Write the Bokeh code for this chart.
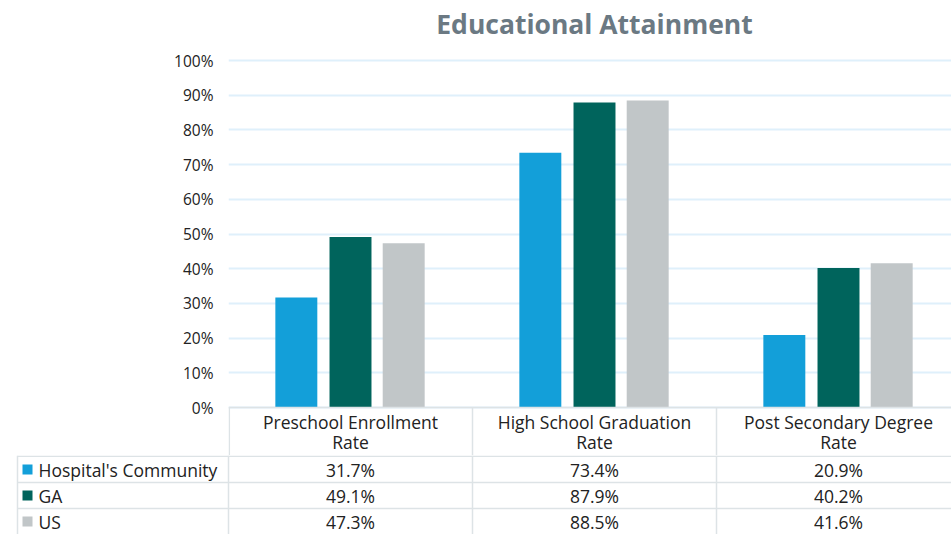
from bokeh.plotting import figure
from bokeh.models import Range1d, FixedTicker
from bokeh.layouts import column
from bokeh.embed import file_html
from bokeh.resources import INLINE
from bokeh.core.properties import value

# ---- data ----
title_text = "Educational Attainment"
cat_line1 = ["Preschool Enrollment", "High School Graduation", "Post Secondary Degree"]
cat_line2 = ["Rate", "Rate", "Rate"]
series_names = ["Hospital's Community", "GA", "US"]
hospital = [31.7, 73.4, 20.9]
ga = [49.1, 87.9, 40.2]
us = [47.3, 88.5, 41.6]
y_ticks = [0, 10, 20, 30, 40, 50, 60, 70, 80, 90, 100]
y_tick_labels = ["0%", "10%", "20%", "30%", "40%", "50%", "60%", "70%", "80%", "90%", "100%"]

series_values = [hospital, ga, us]
colors = ["#139fd9", "#00645c", "#c1c6c8"]
FONT = "Open Sans"
TEXT_COLOR = "#222222"
BORDER = "#dde3e6"

# ---- layout helpers (canvas pixel -> data units) ----
W = 951
CAT_W = 244.0
LEFT = 228.0
Y0 = 407.0          # pixel row of 0%
PPU = 3.47          # pixels per percentage point
TOP_H = 455         # top figure: canvas rows 0..455 (chart + table header)
def px(xp):
    return (xp - LEFT) / CAT_W
def py(yp):
    return (Y0 - yp) / PPU

offsets = [-0.222, 0.0, 0.218]
bar_w = 0.172

# ---- top chart (chart + table header row) ----
p = figure(width=W, height=TOP_H, output_backend="svg", toolbar_location=None,
           x_range=Range1d(0, px(W)), y_range=Range1d(py(TOP_H), py(0)),
           min_border_left=228, min_border_right=0, min_border_top=0, min_border_bottom=0)
p.frame_align = False
p.outline_line_color = None
p.xaxis.visible = False
p.xgrid.visible = False
p.yaxis.ticker = FixedTicker(ticks=y_ticks)
p.yaxis.major_label_overrides = {t: l for t, l in zip(y_ticks, y_tick_labels)}
p.yaxis.axis_line_color = None
p.yaxis.major_tick_line_color = None
p.yaxis.minor_tick_line_color = None
p.yaxis.major_tick_out = 0
p.yaxis.major_label_standoff = 15
p.yaxis.major_label_text_font = FONT
p.yaxis.major_label_text_font_size = "15.5px"
p.yaxis.major_label_text_color = TEXT_COLOR
p.ygrid.grid_line_color = "#dff0fb"
p.ygrid.grid_line_width = 2

# title
p.text(x=[px(594)], y=[py(23)], text=[title_text], text_font=value(FONT), text_font_size="26.5px",
       text_font_style="bold", text_color="#6b7983", text_align="center", text_baseline="middle")

# bars
for j, vals in enumerate(series_values):
    xs = [i + 0.5 + offsets[j] for i in range(len(vals))]
    p.vbar(x=xs, top=vals, bottom=0, width=bar_w, fill_color=colors[j], line_color=None)

# table header row (category labels)
p.segment(x0=[0], y0=[0], x1=[px(960)], y1=[0], line_color=BORDER, line_width=1.5)
hvx = [px(228.8), px(472), px(716)]
p.segment(x0=hvx, y0=[0] * 3, x1=hvx, y1=[py(TOP_H + 5)] * 3, line_color=BORDER, line_width=1.5)

TXT = dict(text_font=value(FONT), text_font_size="17.5px", text_baseline="middle", text_color=TEXT_COLOR)
centers = [i + 0.5 for i in range(len(cat_line1))]
p.text(x=centers, y=[py(421)] * 3, text=cat_line1, text_align="center", **TXT)
p.text(x=centers, y=[py(441)] * 3, text=cat_line2, text_align="center", **TXT)

# ---- table body ----
TH = 534 - TOP_H
t = figure(width=W, height=TH, output_backend="svg", toolbar_location=None,
           x_range=Range1d(px(0), px(W)), y_range=Range1d(TH, 0),
           min_border_left=0, min_border_right=0, min_border_top=0, min_border_bottom=0)
t.frame_align = False
t.outline_line_color = None
t.axis.visible = False
t.grid.visible = False

hy = [0.75, 27, 53]
t.segment(x0=[px(17)] * 3, y0=hy, x1=[px(960)] * 3, y1=hy, line_color=BORDER, line_width=1.5)
vx = [px(17), px(228), px(472), px(716)]
t.segment(x0=vx, y0=[0] * 4, x1=vx, y1=[TH + 5] * 4, line_color=BORDER, line_width=1.5)

row_y = [14, 40, 66]
for j, vals in enumerate(series_values):
    t.text(x=centers, y=[row_y[j]] * 3, text=[f"{v:.1f}%" for v in vals], text_align="center", **TXT)
    t.rect(x=[px(27)], y=[row_y[j]], width=10, height=10, width_units="screen", height_units="screen",
           fill_color=colors[j], line_color=None)
    t.text(x=[px(38)], y=[row_y[j]], text=[series_names[j]], text_align="left", **TXT)

layout = column(p, t, spacing=0)
open("out.html", "w").write(file_html(layout, INLINE))
